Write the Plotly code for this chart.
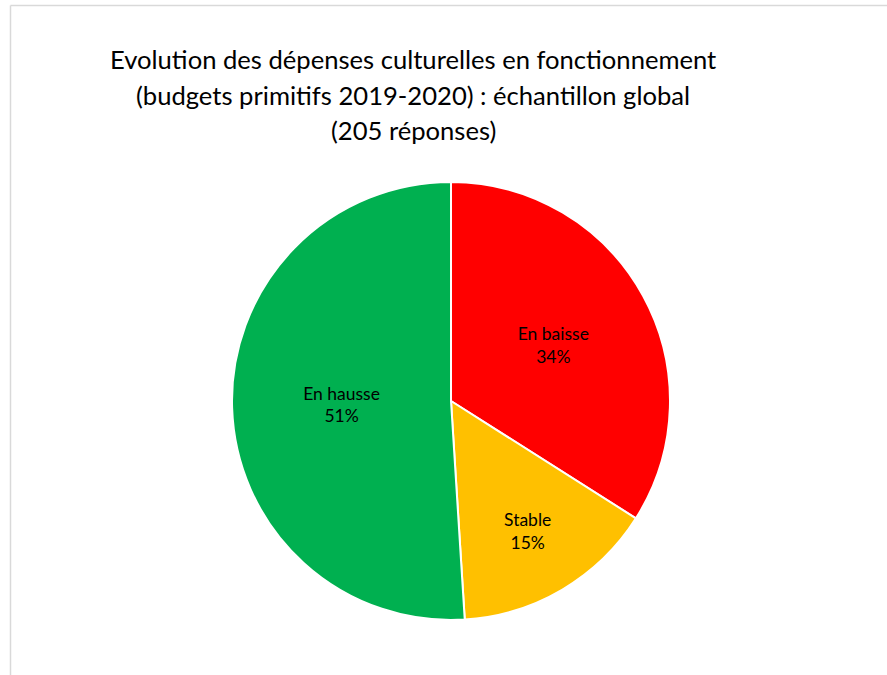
import plotly.graph_objects as go

# Répartition des réponses (en %)
categories = ["En baisse", "Stable", "En hausse"]
shares = [34, 15, 51]
colors = ["#FF0000", "#FFC000", "#00B050"]

title_lines = [
    "Evolution des dépenses culturelles en fonctionnement",
    "(budgets primitifs 2019-2020) : échantillon global",
    "(205 réponses)",
]

W, H = 887, 675
cx, cy, R = 451, 401, 219

fig = go.Figure(
    go.Pie(
        labels=categories,
        values=shares,
        sort=False,
        direction="clockwise",
        rotation=0,
        marker=dict(colors=colors, line=dict(color="white", width=2)),
        texttemplate="%{label}<br>%{percent:.0%}",
        textposition="inside",
        insidetextorientation="horizontal",
        textfont=dict(family="Lato", size=17.5, color="black"),
        showlegend=False,
        hoverinfo="label+percent",
        domain=dict(
            x=[(cx - R) / W, (cx + R) / W],
            y=[1 - (cy + R) / H, 1 - (cy - R) / H],
        ),
    )
)

annotations = []
for i, line in enumerate(title_lines):
    annotations.append(
        dict(
            text=line,
            x=413 / W,
            y=1 - (59 + 35.5 * i) / H,
            xref="paper",
            yref="paper",
            xanchor="center",
            yanchor="middle",
            showarrow=False,
            font=dict(family="Lato", size=25.6, color="black"),
        )
    )

# Cadre de la zone de graphique
shapes = [
    dict(type="line", xref="paper", yref="paper",
         x0=10.5 / W, x1=1.02, y0=1 - 5.5 / H, y1=1 - 5.5 / H,
         line=dict(color="#D9D9D9", width=1.5)),
    dict(type="line", xref="paper", yref="paper",
         x0=10.5 / W, x1=10.5 / W, y0=1 - 5.5 / H, y1=-0.02,
         line=dict(color="#D9D9D9", width=1.5)),
]

fig.update_layout(
    width=W,
    height=H,
    margin=dict(l=0, r=0, t=0, b=0),
    paper_bgcolor="white",
    plot_bgcolor="white",
    annotations=annotations,
    shapes=shapes,
)

fig.write_html("out.html")
